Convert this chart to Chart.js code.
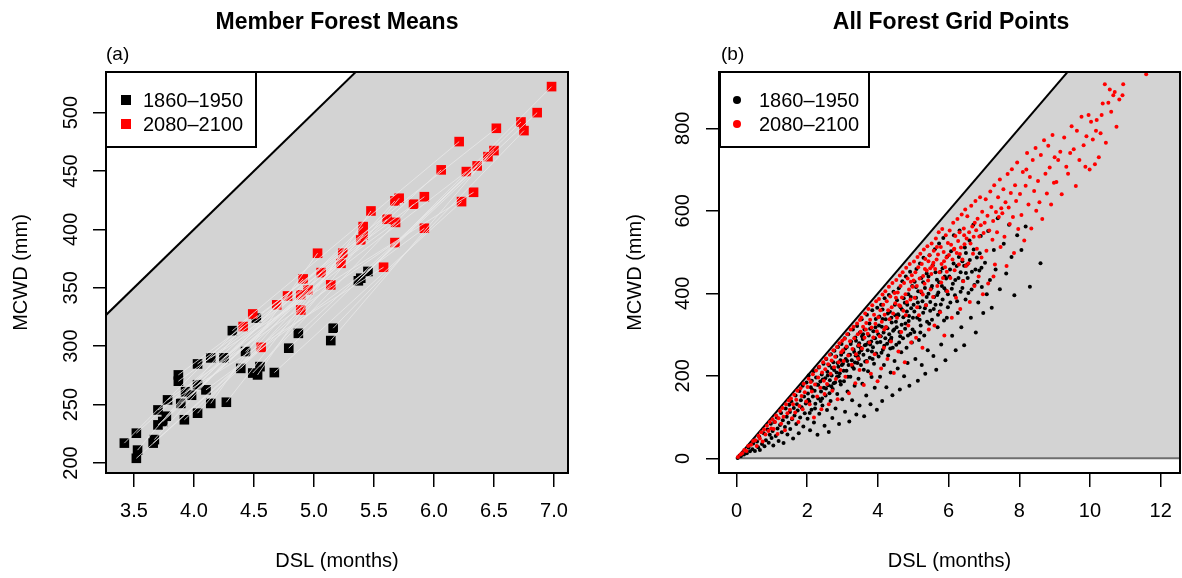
<!DOCTYPE html>
<html>
<head>
<meta charset="utf-8">
<script src="https://cdn.jsdelivr.net/npm/chart.js@4.4.1/dist/chart.umd.min.js"></script>
<style>
  body { margin: 0; width: 1182px; height: 578px; overflow: hidden; background: #fff;
         font-family: "Liberation Sans", Arial, sans-serif; color: #000; }
  canvas { position: absolute; top: 0; }
  #chartA { left: 0; }
  #chartB { left: 591px; }
  .txt { position: absolute; white-space: nowrap; line-height: 24px; }
  .title { font-weight: bold; font-size: 23px; transform: translateX(-50%); }
  .tag { font-size: 19px; }
  .legend { position: absolute; border: 2px solid #000; background: #fff; box-sizing: border-box; }
  .legend .row { position: absolute; left: 0; right: 0; height: 24px; font-size: 20px; line-height: 24px; white-space: nowrap; }
  .legend .mark { position: absolute; }
  .legend .lab { position: absolute; white-space: nowrap; }
</style>
</head>
<body>
<canvas id="chartA" width="591" height="578"></canvas>
<canvas id="chartB" width="593" height="578"></canvas>

<div class="txt title" style="left:337px;top:9px">Member Forest Means</div>
<div class="txt title" style="left:951px;top:9px">All Forest Grid Points</div>
<div class="txt tag" style="left:106px;top:42px">(a)</div>
<div class="txt tag" style="left:721px;top:42px">(b)</div>

<div class="legend" style="left:105px;top:71px;width:152px;height:77px">
  <div class="row" style="top:15px"><div class="mark" style="left:14px;top:7px;width:10px;height:10px;background:#000"></div><div class="lab" style="left:36px">1860–1950</div></div>
  <div class="row" style="top:39px"><div class="mark" style="left:14px;top:7px;width:10px;height:10px;background:#f00"></div><div class="lab" style="left:36px">2080–2100</div></div>
</div>
<div class="legend" style="left:719px;top:71px;width:151px;height:77px">
  <div class="row" style="top:15px"><div class="mark" style="left:12px;top:8px;width:8px;height:8px;border-radius:50%;background:#000"></div><div class="lab" style="left:38px">1860–1950</div></div>
  <div class="row" style="top:39px"><div class="mark" style="left:12px;top:8px;width:8px;height:8px;border-radius:50%;background:#f00"></div><div class="lab" style="left:38px">2080–2100</div></div>
</div>

<script>
// ---- panel (a): member forest means, index i is the same member in both periods ----
var meanDslPast = [3.52, 3.53, 3.42, 3.66, 3.67, 3.52, 3.70, 3.74, 3.92, 3.77, 4.03, 3.70, 3.89, 4.14, 4.27, 3.78, 3.98, 3.93, 4.10, 4.03,
                   3.87, 3.87, 4.53, 4.49, 4.67, 4.39, 4.55, 4.03, 4.14, 4.25, 4.43, 4.79, 5.14, 4.87, 4.32, 5.16, 4.52, 5.37, 5.39, 5.45];
var meanMcwdPast = [204, 211, 217, 217, 220, 225.5, 232.6, 235.5, 237, 240, 242.6, 245.4, 251, 251, 252, 254, 258, 261, 262.6, 267,
                    270, 275.4, 275.4, 277, 277.4, 281, 282.5, 284.8, 290, 290, 295.4, 298.3, 304.8, 311, 313.3, 315.4, 324, 356, 358.2, 364];
var meanDslFuture = [4.56, 4.41, 4.49, 4.89, 4.69, 4.78, 4.89, 4.95, 5.14, 4.91, 5.06, 5.58, 5.225, 5.03, 5.24, 5.675, 5.39, 5.41, 5.92, 5.41,
                     5.68, 5.61, 5.475, 5.83, 6.23, 5.675, 5.71, 5.92, 6.33, 6.27, 6.06, 6.36, 6.45, 6.50, 6.21, 6.75, 6.52, 6.725, 6.86, 6.98];
var meanMcwdFuture = [299, 316.8, 327.6, 331, 335.4, 343, 344, 348.2, 352.5, 357.6, 363, 367.6, 371, 379.6, 379.6, 388.7, 391, 395.3, 401, 402.4,
                      406, 408.7, 415.8, 421.6, 423.8, 424.4, 426.7, 428, 431.8, 449.5, 451, 454.4, 462.3, 467.5, 475.2, 484.6, 486.6, 492, 500, 522.3];

// ---- panel (b): all forest grid points [DSL, MCWD] ----
var gridPast = [
  [0.03,1],[0.12,5],[0.08,6],[0.21,9],[0.17,14],[0.29,12],[0.34,26],[0.38,17],[0.45,22],[0.47,36],
  [0.52,18],[0.58,41],[0.61,27],[0.66,20],[0.64,52],[0.72,35],[0.77,61],[0.79,29],[0.83,44],[0.88,70],[0.91,38],[0.94,57],[0.97,84],[0.99,49],
  [1.02,66],[1.04,31],[1.07,88],[1.11,54],[1.14,99],[1.16,72],[1.19,42],[1.23,81],[1.26,110],[1.28,63],[1.31,92],[1.33,37],[1.37,76],
  [1.39,121],[1.42,101],[1.44,58],[1.47,86],[1.49,130],
  [1.51,112],[1.52,71],[1.55,138],[1.57,95],[1.6,48],[1.62,122],[1.64,104],[1.67,152],[1.69,83],[1.71,131],[1.73,116],[1.76,61],
  [1.78,163],[1.8,99],[1.82,141],[1.84,124],[1.87,176],[1.89,77],[1.91,150],[1.93,109],[1.96,133],[1.98,184],
  [2.01,96],[2.02,157],[2.04,201],[2.06,138],[2.08,68],[2.1,172],[2.12,118],[2.13,188],[2.16,150],[2.18,211],[2.19,87],[2.21,164],
  [2.23,132],[2.25,196],[2.27,179],[2.29,57],[2.31,145],[2.33,220],[2.34,108],[2.37,186],[2.39,162],[2.41,203],[2.43,128],[2.46,229],
  [2.47,171],[2.49,79],
  [2.03,142],[2.14,166],[2.22,121],[2.31,178],[2.38,139],[2.44,191],[2.53,169],[2.58,201],[2.63,158],[2.7,219],[2.75,182],[2.83,208],
  [2.86,231],[2.93,187],[2.98,226],[2.07,110],[2.42,145],[2.68,175],[2.89,199],[2.96,251],
  [2.51,194],[2.52,152],[2.54,241],[2.56,117],[2.57,210],[2.59,177],[2.61,64],[2.62,225],[2.64,189],[2.66,139],[2.67,252],[2.69,201],
  [2.71,98],[2.72,168],[2.74,233],[2.76,214],[2.77,261],[2.79,184],[2.8,121],[2.82,247],[2.84,197],[2.85,156],[2.87,270],[2.88,222],
  [2.9,83],[2.92,206],[2.94,238],[2.95,179],[2.97,277],[2.99,143],
  [3.01,229],[3.02,258],[3.04,187],[3.06,291],[3.07,113],[3.09,241],[3.11,212],[3.12,270],[3.14,162],[3.16,301],[3.17,226],[3.19,89],
  [3.21,251],[3.22,198],[3.24,283],[3.26,238],[3.27,141],[3.29,312],[3.31,264],[3.32,217],[3.34,176],[3.36,293],[3.37,249],[3.39,106],
  [3.41,321],[3.42,231],[3.44,272],[3.45,193],[3.47,256],[3.48,128],[3.49,305],[3.46,241],
  [3.03,212],[3.08,266],[3.13,236],[3.18,251],[3.23,277],[3.28,222],[3.33,258],[3.38,285],[3.43,247],[3.47,279],[3.53,262],[3.58,301],
  [3.63,274],[3.68,236],[3.73,281],[3.78,314],[3.83,259],[3.88,292],[3.93,318],[3.98,281],[3.15,198],[3.35,232],[3.6,215],[3.85,241],
  [3.51,268],[3.52,226],[3.54,337],[3.56,181],[3.57,289],[3.59,251],[3.61,102],[3.62,312],[3.64,235],[3.66,275],[3.67,152],[3.69,348],
  [3.71,262],[3.72,211],[3.74,298],[3.76,327],[3.77,244],[3.79,131],[3.81,283],[3.82,197],[3.84,359],[3.86,269],[3.87,308],[3.89,229],
  [3.91,171],[3.92,291],[3.94,338],[3.95,254],[3.97,118],[3.98,365],[3.55,296],[3.78,276],
  [4.01,301],[4.02,247],[4.04,344],[4.06,198],[4.07,282],[4.09,372],[4.11,319],[4.12,139],[4.14,263],[4.16,305],[4.17,226],[4.19,388],
  [4.21,291],[4.22,337],[4.24,172],[4.26,278],[4.27,315],[4.29,249],[4.31,396],[4.32,301],[4.34,355],[4.36,208],[4.37,288],[4.39,329],
  [4.41,153],[4.42,268],[4.44,404],[4.46,312],[4.47,236],[4.49,347],[4.13,361],[4.38,292],
  [4.03,322],[4.08,296],[4.13,338],[4.18,273],[4.23,318],[4.28,351],[4.33,285],[4.38,341],[4.43,309],[4.48,372],[4.53,318],[4.58,347],
  [4.63,296],[4.68,361],[4.73,388],[4.78,327],[4.83,372],[4.88,345],[4.93,391],[4.98,312],[4.1,256],[4.35,266],[4.6,281],[4.85,298],
  [4.51,331],[4.52,275],[4.54,383],[4.56,218],[4.57,349],[4.59,412],[4.61,306],[4.62,167],[4.64,366],[4.66,257],[4.67,324],[4.69,429],
  [4.71,291],[4.72,342],[4.74,199],[4.76,377],[4.77,314],[4.79,441],[4.81,268],[4.82,356],[4.84,231],[4.86,398],[4.87,333],[4.89,176],
  [4.91,452],[4.92,302],[4.94,364],[4.96,281],[4.97,418],[4.99,341],
  [5.01,372],[5.03,306],[5.04,428],[5.06,241],[5.08,389],[5.09,459],[5.11,341],[5.13,188],[5.14,405],[5.16,287],[5.18,366],[5.19,472],
  [5.21,322],[5.23,437],[5.24,226],[5.26,381],[5.28,353],[5.29,486],[5.31,298],[5.33,413],[5.34,205],[5.36,371],[5.38,448],[5.39,331],
  [5.41,262],[5.43,399],[5.46,492],[5.48,358],
  [5.03,356],[5.08,415],[5.13,378],[5.18,336],[5.23,402],[5.28,427],[5.33,364],[5.38,391],[5.43,441],[5.48,379],[5.53,418],[5.58,362],
  [5.63,451],[5.68,396],[5.73,427],[5.78,373],[5.83,461],[5.88,412],[5.93,436],[5.98,398],[5.2,305],[5.45,326],[5.7,348],[5.95,341],
  [5.51,412],[5.53,336],[5.55,468],[5.57,248],[5.59,391],[5.61,507],[5.63,372],[5.65,215],[5.67,433],[5.69,318],[5.71,402],[5.73,521],
  [5.75,356],[5.77,452],[5.79,276],[5.81,418],[5.83,385],[5.85,534],[5.87,334],[5.89,441],[5.91,238],[5.93,406],[5.96,489],[5.98,366],
  [6.02,441],[6.05,378],[6.07,502],[6.1,297],[6.12,423],[6.15,541],[6.18,395],[6.2,262],[6.23,466],[6.26,352],[6.28,437],[6.31,552],
  [6.34,404],[6.36,318],[6.39,478],[6.41,430],[6.44,274],[6.46,511],[6.48,385],[6.49,449],
  [6.04,458],[6.09,411],[6.14,472],[6.19,432],[6.24,381],[6.29,488],[6.34,451],[6.39,413],[6.44,467],[6.49,498],[6.54,437],[6.6,481],
  [6.65,409],[6.71,506],[6.76,458],[6.82,428],[6.88,497],[6.93,462],
  [6.52,469],[6.56,401],[6.59,528],[6.63,341],[6.66,452],[6.7,566],[6.73,420],[6.77,305],[6.8,487],[6.84,378],[6.87,455],[6.91,539],
  [6.94,415],[6.98,352],
  [7.03,474],[7.08,398],[7.12,551],[7.17,432],[7.22,365],[7.28,505],[7.33,458],[7.39,582],[7.45,410],
  [7.56,520],[7.63,448],[7.71,566],[7.78,488],[7.86,395],[7.94,541],
  [8.06,505],[8.18,562],[8.3,416],[8.6,473]
];
var gridFuture = [
  [0.04,3],[0.11,9],[0.16,12],[0.22,20],[0.28,18],[0.33,30],[0.41,33],[0.47,42],
  [0.53,44],[0.57,30],[0.62,55],[0.66,48],[0.7,63],[0.74,41],[0.78,70],[0.82,58],[0.86,79],[0.9,66],[0.94,88],[0.98,72],
  [1.02,95],[1.05,71],[1.09,88],[1.12,104],[1.16,59],[1.19,97],[1.23,115],[1.26,84],[1.3,122],[1.33,101],[1.37,68],[1.4,131],
  [1.44,109],[1.48,140],
  [1.51,118],[1.54,145],[1.57,97],[1.6,131],[1.63,154],[1.66,111],[1.69,142],[1.72,164],[1.75,88],[1.78,127],[1.81,170],[1.84,151],
  [1.87,119],[1.9,181],[1.93,160],[1.97,138],
  [2.01,173],[2.04,193],[2.07,131],[2.1,185],[2.13,162],[2.16,204],[2.19,99],[2.22,179],[2.25,213],[2.28,150],[2.31,196],[2.34,222],
  [2.37,171],[2.4,119],[2.42,208],[2.45,233],[2.47,188],[2.49,156],
  [2.51,216],[2.53,242],[2.56,180],[2.59,228],[2.61,131],[2.64,251],[2.66,205],[2.69,237],[2.71,164],[2.74,262],[2.76,221],[2.79,246],
  [2.81,192],[2.84,270],[2.86,143],[2.89,233],[2.91,279],[2.94,214],[2.96,257],[2.99,285],
  [3.01,262],[3.03,236],[3.06,290],[3.08,198],[3.11,271],[3.13,301],[3.16,249],[3.18,158],[3.21,284],[3.23,312],[3.26,227],[3.28,265],
  [3.31,319],[3.33,291],[3.36,182],[3.38,252],[3.41,327],[3.43,301],[3.46,274],[3.48,214],[3.49,335],[3.44,242],
  [3.51,307],[3.53,341],[3.55,266],[3.58,319],[3.6,178],[3.62,292],[3.64,351],[3.67,328],[3.69,234],[3.71,302],[3.73,362],[3.76,281],
  [3.78,336],[3.8,205],[3.82,317],[3.84,371],[3.87,293],[3.89,348],[3.91,252],[3.93,326],[3.95,381],[3.97,308],[3.99,187],[3.66,312],
  [4.01,342],[4.03,386],[4.05,296],[4.07,359],[4.09,218],[4.11,331],[4.13,397],[4.15,372],[4.17,268],[4.19,348],[4.21,405],[4.23,318],
  [4.25,381],[4.27,241],[4.29,359],[4.31,416],[4.33,337],[4.35,392],[4.37,283],[4.39,366],[4.41,425],[4.43,351],[4.45,207],[4.47,401],
  [4.49,376],[4.18,312],
  [4.51,389],[4.52,432],[4.54,341],[4.56,402],[4.58,259],[4.6,371],[4.62,443],[4.64,418],[4.66,306],[4.68,390],[4.7,451],[4.72,358],
  [4.74,425],[4.76,233],[4.78,398],[4.8,462],[4.82,379],[4.84,436],[4.86,322],[4.88,409],[4.9,471],[4.92,385],[4.94,281],[4.96,444],
  [4.98,416],[4.63,369],[4.79,347],[4.93,428],
  [5.01,431],[5.02,477],[5.04,389],[5.06,451],[5.08,292],[5.1,418],[5.12,488],[5.14,463],[5.16,347],[5.18,436],[5.2,496],[5.22,405],
  [5.24,471],[5.26,268],[5.28,442],[5.3,506],[5.32,423],[5.34,483],[5.36,371],[5.38,455],[5.4,514],[5.42,431],[5.44,312],[5.46,492],
  [5.48,461],[5.11,366],[5.27,397],[5.33,459],[5.43,478],[5.49,409],
  [5.51,447],[5.52,521],[5.54,466],[5.56,391],[5.58,503],[5.6,322],[5.62,459],[5.64,533],[5.66,482],[5.68,418],[5.7,494],[5.72,548],
  [5.74,451],[5.76,354],[5.78,512],[5.8,471],[5.82,556],[5.84,437],[5.86,500],[5.88,298],[5.9,463],[5.92,541],[5.94,487],[5.96,405],
  [5.98,522],[5.57,474],[5.67,512],[5.79,426],[5.87,478],[5.95,452],
  [6.01,493],[6.03,552],[6.05,437],[6.07,518],[6.09,341],[6.11,482],[6.13,571],[6.15,506],[6.17,456],[6.19,539],[6.21,389],[6.23,498],
  [6.25,580],[6.27,527],[6.29,470],[6.31,548],[6.33,362],[6.35,511],[6.37,591],[6.39,482],[6.41,429],[6.43,557],[6.45,519],[6.47,603],
  [6.49,466],[6.16,508],[6.32,495],[6.44,541],
  [6.51,533],[6.53,587],[6.56,472],[6.58,548],[6.6,379],[6.62,521],[6.64,612],[6.67,562],[6.69,496],[6.71,537],[6.73,418],[6.76,624],
  [6.78,553],[6.8,508],[6.82,581],[6.85,441],[6.87,538],[6.89,633],[6.91,565],[6.93,487],[6.95,598],[6.97,398],[6.99,546],[6.74,571],
  [7.02,571],[7.05,628],[7.07,503],[7.1,588],[7.12,424],[7.15,552],[7.18,647],[7.21,609],[7.24,530],[7.26,575],[7.29,662],[7.31,470],
  [7.34,597],[7.37,548],[7.4,633],[7.42,585],[7.45,676],[7.47,512],[7.49,606],[7.27,441],
  [7.52,594],[7.55,652],[7.58,537],[7.61,621],[7.64,466],[7.67,689],[7.7,608],[7.73,568],[7.76,643],[7.79,701],[7.82,585],[7.85,498],
  [7.88,662],[7.91,624],[7.94,717],[7.97,556],
  [8.02,641],[8.06,590],[8.1,694],[8.14,528],[8.18,661],[8.22,740],[8.26,615],[8.3,682],[8.34,557],[8.38,723],[8.42,648],[8.46,752],
  [8.48,600],[8.2,700],
  [8.53,672],[8.57,621],[8.61,735],[8.65,580],[8.7,771],[8.74,690],[8.78,642],[8.82,758],[8.86,705],[8.9,615],[8.94,784],[8.98,668],
  [9.0,730],[9.05,670],[9.1,723],[9.16,743],[9.2,640],[9.27,778],[9.33,707],[9.38,690],[9.44,740],[9.48,805],
  [9.54,749],[9.6,660],[9.63,794],[9.7,723],[9.76,828],[9.82,759],[9.87,707],[9.9,781],[9.96,832],[9.99,700],
  [10.03,816],[10.08,773],[10.14,713],[10.17,794],[10.19,820],[10.25,730],[10.3,788],[10.33,832],[10.36,860],[10.45,765],
  [10.52,862],[10.56,894],[10.6,840],[10.66,880],[10.7,888],[10.75,804],[10.83,870],[10.92,880],[10.94,907],
  [10.42,907],[11.59,931]
];

// ---- axes / reference line ----
var ticksDslA = [3.5, 4.0, 4.5, 5.0, 5.5, 6.0, 6.5, 7.0];
var ticksMcwdA = [200, 250, 300, 350, 400, 450, 500];
var ticksDslB = [0, 2, 4, 6, 8, 10, 12];
var ticksMcwdB = [0, 200, 400, 600, 800];
var limitDsl = [0, 14];      // MCWD can not exceed 100 mm per dry month
var limitMcwd = [0, 1400];
var zeroMcwd = [0, 0];

var FONT = { family: "'Liberation Sans', Arial, sans-serif", size: 20 };
var GRAY_BG = "#d3d3d3";

function toPoints(xs, ys) {
  return xs.map(function (x, i) { return { x: x, y: ys[i] }; });
}
function pairPoints(list) {
  return list.map(function (p) { return { x: p[0], y: p[1] }; });
}

var boxPlugin = {
  id: "plotBox",
  afterDraw: function (chart) {
    var a = chart.chartArea, ctx = chart.ctx;
    ctx.save();
    ctx.strokeStyle = "#000";
    ctx.lineWidth = 2;
    ctx.strokeRect(a.left, a.top, a.right - a.left, a.bottom - a.top);
    ctx.restore();
  }
};

// R draws y tick labels parallel to the axis
var sideLabels = {
  id: "sideLabels",
  afterDraw: function (chart, args, opts) {
    var ctx = chart.ctx, scale = chart.scales.y;
    ctx.save();
    ctx.font = FONT.size + "px " + FONT.family;
    ctx.fillStyle = "#000";
    ctx.textAlign = "center";
    ctx.textBaseline = "middle";
    scale.ticks.forEach(function (t) {
      var y = scale.getPixelForValue(t.value);
      ctx.save();
      ctx.translate(opts.x, y);
      ctx.rotate(-Math.PI / 2);
      ctx.fillText(String(t.value), 0, 0);
      ctx.restore();
    });
    ctx.restore();
  }
};

function axisX(min, max, ticks, fmt) {
  return {
    type: "linear", min: min, max: max,
    afterFit: function (s) { s.height = 105; },
    afterBuildTicks: function (s) { s.ticks = ticks.map(function (v) { return { value: v }; }); },
    ticks: { font: FONT, color: "#000", padding: 12, maxRotation: 0, autoSkip: false,
             callback: function (v) { return fmt(v); } },
    grid: { drawOnChartArea: false, drawTicks: true, tickLength: 14, color: "#000", lineWidth: 1.5 },
    border: { display: false },
    title: { display: true, text: "DSL (months)", font: FONT, color: "#000", padding: { top: 0, bottom: 5 } }
  };
}
function axisY(min, max, ticks, width, titlePad) {
  return {
    type: "linear", min: min, max: max,
    afterFit: function (s) { s.width = width; },
    afterBuildTicks: function (s) { s.ticks = ticks.map(function (v) { return { value: v }; }); },
    ticks: { display: false },
    grid: { drawOnChartArea: false, drawTicks: true, tickLength: 13, color: "#000", lineWidth: 1.5 },
    border: { display: false },
    title: { display: true, text: "MCWD (mm)", font: FONT, color: "#000", padding: { top: titlePad, bottom: 0 } }
  };
}

// panel (a) datasets: segments joining each member's two periods
var datasetsA = [];
meanDslPast.forEach(function (x, i) {
  datasetsA.push({
    type: "line",
    data: [{ x: x, y: meanMcwdPast[i] }, { x: meanDslFuture[i], y: meanMcwdFuture[i] }],
    borderColor: "rgba(232,232,232,0.8)", borderWidth: 1, pointRadius: 0, fill: false, order: 0
  });
});
datasetsA.push({
  label: "2080–2100", data: toPoints(meanDslFuture, meanMcwdFuture),
  pointStyle: "rect", pointRadius: 6.8, pointBorderWidth: 0, backgroundColor: "#ff0000", order: 1
});
datasetsA.push({
  label: "1860–1950", data: toPoints(meanDslPast, meanMcwdPast),
  pointStyle: "rect", pointRadius: 6.8, pointBorderWidth: 0, backgroundColor: "#000000", order: 2
});
datasetsA.push({
  type: "line", data: toPoints(limitDsl, limitMcwd),
  borderColor: "#000", borderWidth: 2, pointRadius: 0, fill: "start", backgroundColor: GRAY_BG, order: 9
});

new Chart(document.getElementById("chartA"), {
  type: "scatter",
  data: { datasets: datasetsA },
  options: {
    responsive: false, animation: false, events: [],
    layout: { padding: { top: 72, right: 23, left: 0, bottom: 0 } },
    plugins: { legend: { display: false }, tooltip: { enabled: false }, sideLabels: { x: 71 } },
    scales: {
      x: axisX(3.267, 7.117, ticksDslA, function (v) { return v.toFixed(1); }),
      y: axisY(191.4, 534.8, ticksMcwdA, 106, 9.5)
    }
  },
  plugins: [boxPlugin, sideLabels]
});

new Chart(document.getElementById("chartB"), {
  type: "scatter",
  data: {
    datasets: [
      { label: "2080–2100", data: pairPoints(gridFuture), pointRadius: 2, pointBorderWidth: 0,
        backgroundColor: "#ff0000", order: 1 },
      { label: "1860–1950", data: pairPoints(gridPast), pointRadius: 2, pointBorderWidth: 0,
        backgroundColor: "#000000", order: 2 },
      { type: "line", data: toPoints(limitDsl, zeroMcwd), borderColor: "#6e6e6e", borderWidth: 2,
        pointRadius: 0, fill: false, order: 8 },
      { type: "line", data: toPoints(limitDsl, limitMcwd), borderColor: "#000", borderWidth: 2,
        pointRadius: 0, fill: { value: 0 }, backgroundColor: GRAY_BG, order: 9 }
    ]
  },
  options: {
    responsive: false, animation: false, events: [],
    layout: { padding: { top: 72, right: 0, left: 0, bottom: 0 } },
    plugins: { legend: { display: false }, tooltip: { enabled: false }, sideLabels: { x: 92 } },
    scales: {
      x: axisX(-0.4965, 12.547, ticksDslB, function (v) { return String(v); }),
      y: axisY(-35.6, 936.5, ticksMcwdB, 128, 32.5)
    }
  },
  plugins: [boxPlugin, sideLabels]
});
</script>
</body>
</html>
